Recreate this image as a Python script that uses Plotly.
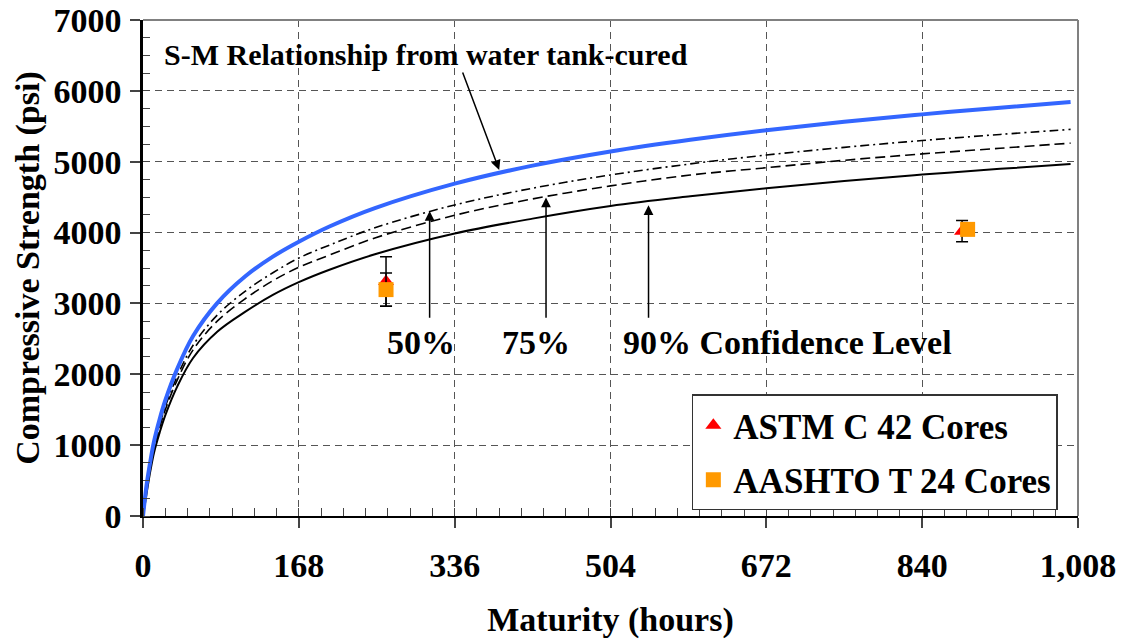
import plotly.graph_objects as go

# maturity (hours) at which the curves were read
hours = [0, 4, 8, 12, 18, 24, 37, 54, 80, 110, 140, 168, 201, 250, 336, 420, 504, 590, 672, 756, 840, 924, 1000]

# strength curves (psi)
sm_tank = [0, 450, 780, 1060, 1370, 1630, 2080, 2540, 3005, 3380, 3660, 3870, 4085, 4345, 4690, 4945, 5145,
           5310, 5445, 5563, 5668, 5763, 5842]
conf_50 = [0, 400, 721, 993, 1290, 1542, 1975, 2410, 2835, 3170, 3433, 3640, 3823, 4067, 4390, 4626, 4813,
           4969, 5094, 5203, 5299, 5385, 5456]
conf_75 = [0, 374, 692, 959, 1250, 1498, 1922, 2345, 2750, 3065, 3320, 3510, 3682, 3924, 4244, 4475, 4659,
           4812, 4915, 5020, 5110, 5190, 5262]
conf_90 = [0, 330, 640, 900, 1180, 1420, 1830, 2230, 2600, 2880, 3120, 3300, 3475, 3693, 3986, 4197, 4375,
           4511, 4625, 4727, 4818, 4899, 4966]

# core results
astm_hours = [262, 883]
astm_psi = [3310, 4020]
astm_err = [350, 150]
aashto_hours = [262, 889]
aashto_psi = [3195, 4045]
aashto_err = [235, 0]

x_ticks = [0, 168, 336, 504, 672, 840, 1008]
x_ticktext = ["0", "168", "336", "504", "672", "840", "1,008"]
y_ticks = [0, 1000, 2000, 3000, 4000, 5000, 6000, 7000]

FONT = "Liberation Serif"

fig = go.Figure()

fig.add_trace(go.Scatter(x=hours, y=conf_90, mode="lines", line=dict(color="black", width=2),
                         line_shape="spline", showlegend=False, hoverinfo="skip"))
fig.add_trace(go.Scatter(x=hours, y=conf_75, mode="lines", line=dict(color="black", width=1.6, dash="10px,5px"),
                         line_shape="spline", showlegend=False, hoverinfo="skip"))
fig.add_trace(go.Scatter(x=hours, y=conf_50, mode="lines",
                         line=dict(color="black", width=1.6, dash="9px,4px,2px,4px"),
                         line_shape="spline", showlegend=False, hoverinfo="skip"))
fig.add_trace(go.Scatter(x=hours, y=sm_tank, mode="lines", line=dict(color="#3366ff", width=4),
                         line_shape="spline", showlegend=False, hoverinfo="skip"))

fig.add_trace(go.Scatter(
    x=astm_hours, y=astm_psi, mode="markers", name="ASTM C 42 Cores", legendgroup="a",
    marker=dict(symbol="triangle-up", color="#ff0000", size=14),
    error_y=dict(type="data", array=astm_err, color="black", thickness=1.5, width=6),
))
fig.add_trace(go.Scatter(
    x=aashto_hours, y=aashto_psi, mode="markers", name="AASHTO T 24 Cores", legendgroup="b",
    marker=dict(symbol="square", color="#ff9900", size=15),
    error_y=dict(type="data", array=aashto_err, color="black", thickness=1.5, width=6),
))

ann_font = dict(family=FONT, size=34, color="black", weight="bold")
arrow = dict(showarrow=True, arrowhead=2, arrowsize=1.3, arrowwidth=1.5, arrowcolor="black",
             axref="x", ayref="y", text="")

fig.add_annotation(x=21, y=6520, text="S-M Relationship from water tank-cured", showarrow=False,
                   xanchor="left", font=dict(family=FONT, size=30, color="black", weight="bold"))
fig.add_annotation(x=384, y=4884, ax=344, ay=6280, **arrow)
fig.add_annotation(x=309, y=4305, ax=309, ay=2775, **arrow)
fig.add_annotation(x=434.5, y=4494, ax=434.5, ay=2775, **arrow)
fig.add_annotation(x=545, y=4386, ax=545, ay=2775, **arrow)
fig.add_annotation(x=300, y=2450, text="50%", showarrow=False, font=ann_font)
fig.add_annotation(x=424, y=2450, text="75%", showarrow=False, font=ann_font)
fig.add_annotation(x=694.5, y=2450, text="90% Confidence Level", showarrow=False, font=ann_font)

# gray top / right frame
fig.add_shape(type="line", xref="x domain", yref="y domain", x0=0, x1=1, y0=1, y1=1,
              line=dict(color="#808080", width=2))
fig.add_shape(type="line", xref="x domain", yref="y domain", x0=1, x1=1, y0=0, y1=1,
              line=dict(color="#808080", width=2))

tick_font = dict(family=FONT, size=34, color="black", weight="bold")
title_font = dict(family=FONT, size=34, color="black", weight="bold")

fig.update_layout(
    width=1128,
    height=641,
    margin=dict(l=143, r=50, t=20, b=125),
    plot_bgcolor="white",
    paper_bgcolor="white",
    font=dict(family=FONT, color="black"),
    xaxis=dict(
        range=[0, 1008],
        automargin=False,
        tickvals=x_ticks,
        ticktext=x_ticktext,
        tickfont=tick_font,
        ticks="outside",
        ticklen=10,
        tickwidth=1.5,
        tickcolor="#444",
        ticklabelstandoff=8,
        ticklabeloverflow="allow",
        showline=True,
        linecolor="black",
        linewidth=2,
        showgrid=True,
        gridcolor="#555",
        gridwidth=1,
        griddash="7px,5px",
        zeroline=False,
        minor=dict(ticks="inside", dtick=24, ticklen=8, tickcolor="#444", tickwidth=1.2, showgrid=False),
        title=dict(text="Maturity (hours)", font=title_font, standoff=24),
    ),
    yaxis=dict(
        range=[0, 7000],
        automargin=False,
        tickvals=y_ticks,
        tickfont=tick_font,
        ticks="outside",
        ticklen=10,
        tickwidth=1.5,
        tickcolor="#444",
        ticklabelstandoff=2,
        ticklabeloverflow="allow",
        showline=True,
        linecolor="black",
        linewidth=2.5,
        showgrid=True,
        gridcolor="#555",
        gridwidth=1,
        griddash="7px,5px",
        zeroline=False,
        minor=dict(ticks="inside", dtick=250, ticklen=7, tickcolor="#444", tickwidth=1.2, showgrid=False),
        title=dict(text="Compressive Strength (psi)", font=title_font, standoff=4),
    ),
    legend=dict(
        x=0.587,
        y=0.245,
        xanchor="left",
        yanchor="top",
        bgcolor="white",
        bordercolor="#333",
        borderwidth=1.5,
        font=dict(family=FONT, size=35, color="black", weight="bold"),
        tracegroupgap=6,
        itemwidth=30,
    ),
)

# drop the default page margin so the figure sits at the window's corner
fig.write_html("out.html", config={"displayModeBar": False},
               post_script="document.body.style.margin='0';")
